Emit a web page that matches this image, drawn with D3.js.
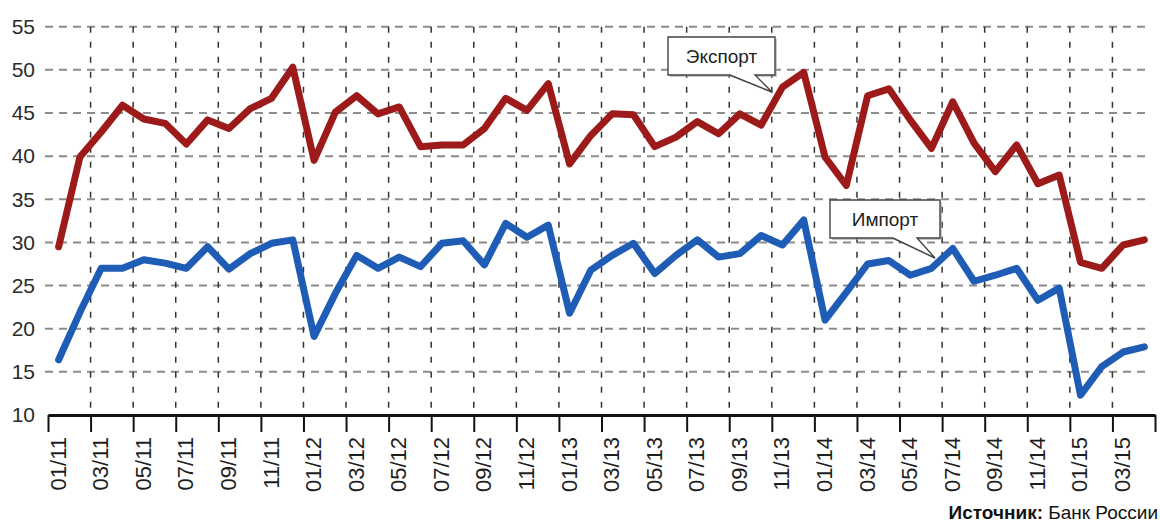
<!DOCTYPE html>
<html>
<head>
<meta charset="utf-8">
<script src="https://cdn.jsdelivr.net/npm/d3@7"></script>
<style>
  body { margin: 0; background: #fff; }
  svg { display: block; }
  text { font-family: "Liberation Sans", Arial, Helvetica, sans-serif; }
</style>
</head>
<body>
<svg id="chart" width="1160" height="522"></svg>
<script>
// Monthly foreign trade, bn USD
const months = [
  "01/11","02/11","03/11","04/11","05/11","06/11","07/11","08/11","09/11","10/11","11/11","12/11",
  "01/12","02/12","03/12","04/12","05/12","06/12","07/12","08/12","09/12","10/12","11/12","12/12",
  "01/13","02/13","03/13","04/13","05/13","06/13","07/13","08/13","09/13","10/13","11/13","12/13",
  "01/14","02/14","03/14","04/14","05/14","06/14","07/14","08/14","09/14","10/14","11/14","12/14",
  "01/15","02/15","03/15","04/15"
];

const exportValues = [
  29.5, 39.9, 42.8, 45.9, 44.3, 43.8, 41.4, 44.2, 43.2, 45.5, 46.7, 50.3,
  39.5, 45.1, 47.0, 44.9, 45.7, 41.1, 41.3, 41.3, 43.2, 46.7, 45.3, 48.4,
  39.1, 42.4, 44.9, 44.8, 41.1, 42.2, 44.0, 42.6, 44.9, 43.6, 48.0, 49.7,
  39.9, 36.6, 47.0, 47.8, 44.2, 40.9, 46.3, 41.5, 38.2, 41.3, 36.8, 37.8,
  27.7, 27.0, 29.7, 30.3
];

const importValues = [
  16.4, 21.9, 27.0, 27.0, 28.0, 27.6, 27.0, 29.5, 26.9, 28.7, 29.9, 30.3,
  19.1, 24.1, 28.5, 27.0, 28.3, 27.2, 29.9, 30.2, 27.4, 32.2, 30.6, 32.0,
  21.8, 26.8, 28.5, 29.9, 26.4, 28.5, 30.3, 28.3, 28.7, 30.8, 29.7, 32.6,
  21.0, 24.2, 27.5, 27.9, 26.2, 27.0, 29.3, 25.5, 26.2, 27.0, 23.3, 24.7,
  12.3, 15.6, 17.3, 17.9
];

const tickLabels = [
  "01/11","03/11","05/11","07/11","09/11","11/11",
  "01/12","03/12","05/12","07/12","09/12","11/12",
  "01/13","03/13","05/13","07/13","09/13","11/13",
  "01/14","03/14","05/14","07/14","09/14","11/14",
  "01/15","03/15"
];

const yTickValues = [10, 15, 20, 25, 30, 35, 40, 45, 50, 55];

const seriesNames = ["Экспорт", "Импорт"];
const sourceBold = "Источник:";
const sourceText = " Банк России";

const svg = d3.select("#chart");

// month boundaries run from the first month's start to the last month's end
const x = d3.scaleLinear().domain([0, months.length]).range([48, 1155]);
const y = d3.scaleLinear().domain([10, 55]).range([415, 26.7]);

const boundaryIdx = d3.range(0, months.length + 1, 2);

// horizontal dashed grid
svg.append("g")
  .selectAll("line")
  .data(yTickValues.filter(v => v > 10))
  .join("line")
  .attr("x1", 45).attr("x2", 1150)
  .attr("y1", d => y(d)).attr("y2", d => y(d))
  .attr("stroke", "#8c8c8c")
  .attr("stroke-width", 2)
  .attr("stroke-dasharray", "8,6");

// vertical dashed grid at every second month boundary
svg.append("g")
  .selectAll("line")
  .data(boundaryIdx.filter(i => i > 0 && i < months.length))
  .join("line")
  .attr("x1", d => x(d)).attr("x2", d => x(d))
  .attr("y1", y(55)).attr("y2", y(10))
  .attr("stroke", "#333")
  .attr("stroke-width", 1.5)
  .attr("stroke-dasharray", "6,9");

// y axis labels
const yAxis = svg.append("g")
  .attr("transform", "translate(38,0)")
  .call(d3.axisLeft(y).tickValues(yTickValues).tickSize(0).tickPadding(3));
yAxis.select(".domain").remove();
yAxis.selectAll("text")
  .attr("font-size", 21)
  .attr("fill", "#2b2b2b")
  .attr("font-family", "Liberation Sans, Arial, sans-serif");

// x axis: ticks on month boundaries
const xAxis = svg.append("g")
  .attr("transform", `translate(0,${y(10)})`)
  .call(d3.axisBottom(x).tickValues(boundaryIdx).tickSize(17).tickSizeOuter(0).tickFormat(""));
xAxis.select(".domain").attr("stroke", "#111").attr("stroke-width", 3.2);
xAxis.selectAll(".tick line").attr("stroke", "#111").attr("stroke-width", 2);

// x labels centred on the labelled month, rotated
svg.append("g")
  .selectAll("text")
  .data(tickLabels)
  .join("text")
  .attr("transform", (d, k) => `translate(${x(k * 2 + 0.5) + 7},437) rotate(-90)`)
  .attr("text-anchor", "end")
  .attr("font-size", 22)
  .attr("fill", "#1e1e1e")
  .text(d => d);

// series lines
const line = d3.line()
  .x((d, i) => x(i + 0.5))
  .y(d => y(d));

svg.append("path")
  .datum(importValues)
  .attr("d", line)
  .attr("fill", "none")
  .attr("stroke", "#1e5cb6")
  .attr("stroke-width", 7)
  .attr("stroke-linejoin", "round")
  .attr("stroke-linecap", "round");

svg.append("path")
  .datum(exportValues)
  .attr("d", line)
  .attr("fill", "none")
  .attr("stroke", "#9c1a1a")
  .attr("stroke-width", 7)
  .attr("stroke-linejoin", "round")
  .attr("stroke-linecap", "round");

// callout boxes with pointer
function callout(box, tail, label) {
  const [x0, y0, x1, y1] = box;
  const [ta, tb, tx, ty] = tail;
  const d = `M${x0},${y0}H${x1}V${y1}H${tb}L${tx},${ty}L${ta},${y1}H${x0}Z`;
  const g = svg.append("g");
  g.append("path").attr("d", d).attr("transform", "translate(2,2)")
    .attr("fill", "#9a9a9a").attr("opacity", 0.55);
  g.append("path").attr("d", d)
    .attr("fill", "#fff").attr("stroke", "#444").attr("stroke-width", 1.4);
  g.append("text")
    .attr("x", (x0 + x1) / 2).attr("y", (y0 + y1) / 2 + 7)
    .attr("text-anchor", "middle")
    .attr("font-size", 19)
    .attr("fill", "#222")
    .text(label);
}
callout([668, 37, 775, 75], [730, 755, 772, 92], seriesNames[0]);
callout([830, 200, 940, 238], [893, 917, 935, 258], seriesNames[1]);

// source note
const src = svg.append("text")
  .attr("x", 1158).attr("y", 519)
  .attr("text-anchor", "end")
  .attr("font-size", 19)
  .attr("fill", "#111");
src.append("tspan").attr("font-weight", "bold").text(sourceBold);
src.append("tspan").text(sourceText);
</script>
</body>
</html>
